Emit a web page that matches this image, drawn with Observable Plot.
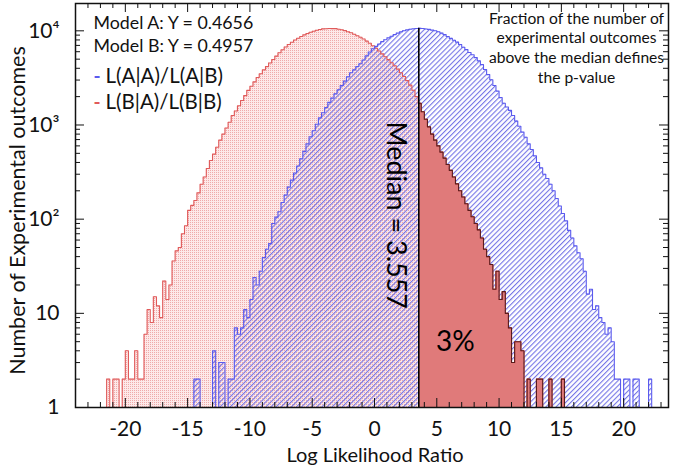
<!DOCTYPE html>
<html><head><meta charset="utf-8">
<script src="https://cdn.jsdelivr.net/npm/d3@7"></script>
<script src="https://cdn.jsdelivr.net/npm/@observablehq/plot@0.6"></script>
<style>html,body{margin:0;padding:0;background:#fff}svg{display:block}</style>
</head><body><div id="chart"></div>
<script>
// ---- data ----
const binWidth = 0.25;
const redStart = -22;   // L(B|A)/L(B|B)
const redCounts = [
  1,1,2,1,2,2,1,2,4,2,
  2,4,2,2,6,11,8,15,12,9,
  22,14,20,36,46,50,70,85,124,140,
  158,190,235,280,345,420,490,580,690,800,
  930,1070,1260,1410,1600,1820,2050,2330,2580,2870,
  3190,3500,3850,4170,4550,4950,5380,5850,6300,6720,
  7150,7550,7980,8330,8700,9050,9350,9660,9900,10150,
  10320,10480,10520,10600,10560,10550,10400,10280,10050,9770,
  9550,9180,8870,8550,8200,7780,7380,6950,6530,6100,
  5690,5310,4940,4580,4250,3920,3590,3270,2960,2650,
  2340,2000,1700,1380,1150,955,800,690,600,515,
  445,380,330,280,237,200,172,146,124,106,
  90,77,63,48,40,33,18,28,14,17,
  10,7,3,5,5,4,1,2,1,1,
  2,2,1,1,2,1,1,1,2
];
const blueStart = -15;  // L(A|A)/L(A|B)
const blueCounts = [
  1,1,2,2,1,1,1,1,4,1,
  3,3,1,2,2,7,6,7,11,9,
  14,24,20,28,39,48,55,90,105,120,
  150,180,219,260,309,367,437,525,630,750,
  870,1020,1190,1350,1530,1740,1930,2140,2370,2630,
  2920,3240,3590,3850,4170,4470,4900,5430,5960,6460,
  6840,7240,7670,8040,8410,8770,9120,9440,9770,10000,
  10230,10400,10520,10590,10620,10590,10470,10350,10180,10000,
  9770,9440,9120,8710,8320,7940,7590,7160,6680,6310,
  5890,5560,5190,4790,4370,3890,3430,3020,2630,2290,
  1950,1700,1550,1430,1260,1100,970,840,740,630,
  550,470,400,350,300,270,235,200,166,138,
  115,96,76,63,52,44,38,28,16,18,
  11,12,9,8,6,7,5,2,2,1,
  2,2,1,2,2,1,1,1,2
];
const median = 3.557;
const medianLabel = "Median = 3.557";
const pValueLabel = "3%";
const modelLines = ["Model A: Y = 0.4656", "Model B: Y = 0.4957"];
const legendLabels = ["L(A|A)/L(A|B)", "L(B|A)/L(B|B)"];
const noteLines = ["Fraction of the number of", "experimental outcomes", "above the median defines", "the p-value"];
const xLabel = "Log Likelihood Ratio";
const yLabel = "Number of Experimental outcomes";
const xMajor = [-20, -15, -10, -5, 0, 5, 10, 15, 20];
const xMinor = d3.range(-24, 24, 1).filter(v => v % 5 !== 0);
const yMajor = [1, 10, 100, 1000, 10000];
const yTickLabels = ["1", "10", "10²", "10³", "10⁴"];
const yMinor = yMajor.flatMap(p => [2,3,4,5,6,7,8,9].map(m => m * p)).filter(v => v < 19500);

// ---- helpers building step tables ----
function steps(start, counts) {
  const pts = [{x: start, v: 1}];
  counts.forEach((c, i) => pts.push({x: start + i * binWidth, v: Math.max(1, c)}));
  const end = start + counts.length * binWidth;
  pts.push({x: end, v: Math.max(1, counts[counts.length - 1])}, {x: end, v: 1});
  return pts;
}
function tail(start, counts, from) {
  const i0 = Math.floor((from - start) / binWidth);
  const pts = [{x: from, v: 1}, {x: from, v: counts[i0]}];
  for (let i = i0 + 1; i < counts.length; i++) pts.push({x: start + i * binWidth, v: Math.max(1, counts[i])});
  const end = start + counts.length * binWidth;
  pts.push({x: end, v: Math.max(1, counts[counts.length - 1])}, {x: end, v: 1});
  return pts;
}
const red = steps(redStart, redCounts);
const blue = steps(blueStart, blueCounts);
const redTail = tail(redStart, redCounts, median);
const blueAtMedian = blueCounts[Math.floor((median - blueStart) / binWidth)];

const W = 675, H = 465, mL = 75, mR = 7, mT = 3, mB = 58;
const pw = W - mL - mR, ph = H - mT - mB;
const font = "Lato, 'Open Sans', sans-serif";
const blueC = "#5a5aee", redC = "#e05a5a", darkC = "#5a1c1c";

const plot = Plot.plot({
  width: W, height: H,
  marginLeft: mL, marginRight: mR, marginTop: mT, marginBottom: mB,
  style: {fontFamily: font, fontSize: "21px", color: "#111", background: "#fff"},
  x: {domain: [-24, 23.6], ticks: xMajor, tickSize: 0, tickPadding: 14, label: null, tickFormat: d => String(d)},
  y: {type: "log", domain: [1, 19500], ticks: yMajor, tickSize: 0, tickPadding: 16, label: null,
      tickFormat: d => yTickLabels[yMajor.indexOf(d)]},
  marks: [
    Plot.areaY(red, {x: "x", y1: 1, y2: "v", curve: "step-after", fill: "url(#pinkDots)"}),
    Plot.areaY(blue, {x: "x", y1: 1, y2: "v", curve: "step-after", fill: "url(#blueHatch)"}),
    Plot.areaY(redTail, {x: "x", y1: 1, y2: "v", curve: "step-after", fill: "#e07a7a"}),
    Plot.line(red, {x: "x", y: "v", curve: "step-after", stroke: redC, strokeWidth: 1.1}),
    Plot.line(blue, {x: "x", y: "v", curve: "step-after", stroke: blueC, strokeWidth: 1.1}),
    Plot.line(redTail.slice(1), {x: "x", y: "v", curve: "step-after", stroke: darkC, strokeWidth: 1.1}),
    Plot.ruleX([median], {x: d => d, y1: 1, y2: blueAtMedian, stroke: "#000", strokeWidth: 1.6}),
    Plot.frame({stroke: "#111", strokeWidth: 1.5}),
    // inward ticks
    Plot.ruleX(xMajor, {x: d => d, insetTop: ph - 9, stroke: "#111", strokeWidth: 1}),
    Plot.ruleX(xMajor, {x: d => d, insetBottom: ph - 9, stroke: "#111", strokeWidth: 1}),
    Plot.ruleX(xMinor, {x: d => d, insetTop: ph - 5, stroke: "#111", strokeWidth: 1}),
    Plot.ruleX(xMinor, {x: d => d, insetBottom: ph - 5, stroke: "#111", strokeWidth: 1}),
    Plot.ruleY(yMajor, {y: d => d, insetRight: pw - 9, stroke: "#111", strokeWidth: 1}),
    Plot.ruleY(yMajor, {y: d => d, insetLeft: pw - 9, stroke: "#111", strokeWidth: 1}),
    Plot.ruleY(yMinor, {y: d => d, insetRight: pw - 5, stroke: "#111", strokeWidth: 1}),
    Plot.ruleY(yMinor, {y: d => d, insetLeft: pw - 5, stroke: "#111", strokeWidth: 1}),
    // axis titles
    Plot.text([xLabel], {text: d => d, frameAnchor: "bottom", dx: 3, dy: 54, lineAnchor: "bottom", textAnchor: "middle", fontSize: 20, fill: "#111"}),
    Plot.text([yLabel], {text: d => d, frameAnchor: "left", dx: -57, dy: 5, rotate: -90, textAnchor: "middle", lineAnchor: "middle", fontSize: 21.5, fill: "#111"}),
    // annotations
    ...modelLines.map((t, i) => Plot.text([t], {text: d => d, frameAnchor: "top-left", dx: 18, dy: 25 + 23.5 * i, lineAnchor: "bottom", textAnchor: "start", fontSize: 17.8, fill: "#111"})),
    ...legendLabels.map((t, i) => Plot.text(["-"], {text: d => d, frameAnchor: "top-left", dx: 18, dy: 79 + 26 * i, lineAnchor: "bottom", textAnchor: "start", fontSize: 19, fontWeight: "bold", fill: i === 0 ? blueC : redC})),
    ...legendLabels.map((t, i) => Plot.text([t], {text: d => d, frameAnchor: "top-left", dx: 30, dy: 79 + 26 * i, lineAnchor: "bottom", textAnchor: "start", fontSize: 20.5, fill: "#111"})),
    ...noteLines.map((t, i) => Plot.text([t], {text: d => d, frameAnchor: "top-right", dx: -92, dy: 20 + 19.7 * i, lineAnchor: "bottom", textAnchor: "middle", fontSize: 15.6, fill: "#111"})),
    Plot.text([medianLabel], {text: d => d, x: median, y: 110, dx: -23, rotate: 90, textAnchor: "middle", lineAnchor: "middle", fontSize: 27, fill: "#000"}),
    Plot.text([pValueLabel], {text: d => d, x: 6.5, y: 4, textAnchor: "middle", lineAnchor: "bottom", fontSize: 28, fill: "#000"})
  ]
});

const ns = "http://www.w3.org/2000/svg";
const defs = document.createElementNS(ns, "defs");
defs.innerHTML = `
<pattern id="pinkDots" width="2" height="2" patternUnits="userSpaceOnUse">
  <rect width="2" height="2" fill="#fde9e9"/><rect width="1" height="1" fill="#efaaaa"/>
</pattern>
<pattern id="blueHatch" width="3.6" height="3.6" patternUnits="userSpaceOnUse" patternTransform="rotate(45)">
  <rect x="0" y="0" width="1.1" height="3.6" fill="#7474e6"/>
</pattern>`;
plot.insertBefore(defs, plot.firstChild);
document.getElementById("chart").appendChild(plot);
</script>
</body></html>
